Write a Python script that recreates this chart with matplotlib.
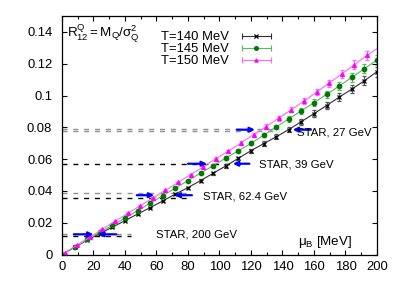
import matplotlib
matplotlib.use('Agg')
import matplotlib.pyplot as plt
from matplotlib.lines import Line2D
from matplotlib.legend_handler import HandlerLine2D, HandlerTuple
from matplotlib.ticker import MultipleLocator

plt.rcParams['font.family'] = ['Liberation Sans', 'DejaVu Sans']
plt.rcParams['mathtext.fontset'] = 'custom'
plt.rcParams['mathtext.rm'] = 'Liberation Sans'
plt.rcParams['mathtext.it'] = 'Liberation Sans:italic'

# lattice QCD curves, mu_B in MeV
mu = [0, 8, 16, 24, 32, 40, 48, 56, 64, 72, 80, 88, 96, 104, 112, 120,
      128, 136, 144, 152, 160, 168, 176, 184, 192, 200]
mu_150 = [1.6, 9.6, 17.6, 25.6, 33.6, 41.6, 49.6, 57.6, 65.6, 73.6, 81.6, 89.6,
          97.6, 105.6, 113.6, 121.6, 129.6, 137.6, 145.6, 153.6, 161.6, 169.6,
          177.6, 185.6, 193.6, 201.6]
r_140 = [0.0, 0.0045, 0.0091, 0.0131, 0.0172, 0.0213, 0.0255, 0.0295, 0.0337,
         0.0380, 0.0421, 0.0465, 0.0511, 0.0557, 0.0605, 0.0653, 0.0697, 0.0740,
         0.0786, 0.0836, 0.0886, 0.0937, 0.0990, 0.1040, 0.1093, 0.1150]
r_145 = [0.0, 0.0048, 0.0095, 0.0139, 0.0183, 0.0229, 0.0276, 0.0323, 0.0370,
         0.0418, 0.0465, 0.0512, 0.0559, 0.0607, 0.0653, 0.0699, 0.0750, 0.0802,
         0.0853, 0.0904, 0.0955, 0.1007, 0.1060, 0.1114, 0.1169, 0.1223]
r_150 = [0.0010, 0.0059, 0.0108, 0.0159, 0.0208, 0.0258, 0.0306, 0.0355, 0.0403,
         0.0453, 0.0502, 0.0551, 0.0602, 0.0650, 0.0702, 0.0754, 0.0804, 0.0858,
         0.0911, 0.0965, 0.1021, 0.1078, 0.1135, 0.1194, 0.1252, 0.1305]
err = [0.0002, 0.0002, 0.0002, 0.00024, 0.00027, 0.00032, 0.00037, 0.00043,
       0.0005, 0.00058, 0.00066, 0.00076, 0.00087, 0.00098, 0.0011, 0.00124,
       0.00139, 0.00154, 0.0017, 0.00188, 0.00206, 0.00225, 0.00245, 0.00265,
       0.00287, 0.0031]

# STAR data: dashed levels, arrows and labels
star_labels = ['STAR, 27 GeV', 'STAR, 39 GeV', 'STAR, 62.4 GeV', 'STAR, 200 GeV']
star_hi = [0.0792, 0.0571, 0.0386, 0.0131]
star_lo = [0.0776, 0.0571, 0.0357, 0.0117]
hi_color = ['#909090', 'black', '#909090', '#909090']
lo_color = ['#909090', 'black', 'black', 'black']
dash_end = [138, 116, 80, 44]
arrow_y = [0.0785, 0.0571, 0.0373, 0.0127]
r_tail = [111, 80, 47.5, 7.5]
r_head = [122.5, 92, 58.5, 20]
l_tail = [158, 119, 82.5, 34.5]
l_head = [146.5, 108.5, 71.5, 23]
label_x = [149.5, 125, 89.5, 59.5]
label_y = [0.0766, 0.0568, 0.0366, 0.0123]

fig = plt.figure(figsize=(4.02, 2.81), dpi=100)
ax = fig.add_axes([0.1542, 0.0943, 0.7836, 0.8487])

dash = (0, (3.6, 4.2))
for i in range(len(star_labels)):
    ax.plot([0, dash_end[i]], [star_hi[i], star_hi[i]], color=hi_color[i],
            lw=1.0, linestyle=dash)
    if star_lo[i] != star_hi[i]:
        ax.plot([0, dash_end[i]], [star_lo[i], star_lo[i]], color=lo_color[i],
                lw=1.0, linestyle=dash)

series = [
    (mu, r_140, 'T=140 MeV', '#303030', 'black', 'x', 3.5),
    (mu, r_145, 'T=145 MeV', '#5cb85c', '#007700', 'o', 3.2),
    (mu_150, r_150, 'T=150 MeV', '#ff66ff', '#ff00ff', '^', 2.8),
]
handles = []
hmap = {}
for x, y, lab, lc, mc, mk, ms in series:
    ax.errorbar(x, y, yerr=err, color=lc, ecolor=lc if mk != 'x' else '#555555',
                elinewidth=0.8, capsize=1.3, capthick=0.8, lw=0.8,
                marker=mk, ms=ms, mfc=mc, mec=mc, mew=0.9)
    caps = Line2D([], [], color=lc, lw=0.8, marker='|', ms=4, mec=lc, mew=0.8)
    mid = Line2D([], [], color=lc, lw=0, marker=mk, ms=ms - 0.5, mfc=mc, mec=mc,
                 mew=0.9)
    hmap[caps] = HandlerLine2D(numpoints=2)
    hmap[mid] = HandlerLine2D(numpoints=1)
    handles.append((caps, mid))
    hmap[(caps, mid)] = HandlerTuple(ndivide=1)

for i in range(len(star_labels)):
    ax.annotate('', xy=(r_head[i], arrow_y[i]), xytext=(r_tail[i], arrow_y[i]),
                arrowprops=dict(arrowstyle='-|>', color='#0000ff', lw=1.6,
                                mutation_scale=7, shrinkA=0, shrinkB=0))
    ax.annotate('', xy=(l_head[i], arrow_y[i]), xytext=(l_tail[i], arrow_y[i]),
                arrowprops=dict(arrowstyle='-|>', color='#0000ff', lw=1.6,
                                mutation_scale=7, shrinkA=0, shrinkB=0))
    ax.text(label_x[i], label_y[i], star_labels[i], fontsize=8.2,
            ha='left', va='center')

leg = ax.legend(handles, [s[2] for s in series], handler_map=hmap,
                loc='upper right', bbox_to_anchor=(0.675, 0.937),
                frameon=False, markerfirst=False, fontsize=9.4,
                handlelength=2.8, handletextpad=0.7, labelspacing=0.0,
                borderpad=0, borderaxespad=0)

ax.text(0.017, 0.97, r'$\mathregular{R^{Q}_{12}=M_{Q}/σ^{2}_{Q}}$',
        transform=ax.transAxes, fontsize=9.6, ha='left', va='top')
ax.text(150, 0.008, r'$\mathregular{μ_{B}}$ [MeV]', fontsize=9.6,
        ha='left', va='center')

ax.set_xlim(0, 200)
ax.set_ylim(0, 0.15)
ax.xaxis.set_major_locator(MultipleLocator(20))
ax.xaxis.set_minor_locator(MultipleLocator(10))
ax.set_yticks([0, 0.02, 0.04, 0.06, 0.08, 0.1, 0.12, 0.14])
ax.set_yticklabels(['0', '0.02', '0.04', '0.06', '0.08', '0.1', '0.12', '0.14'])
ax.tick_params(which='both', direction='in', top=True, right=True,
               labelsize=9.4, width=0.8)
ax.tick_params(which='major', length=3.5)
ax.tick_params(which='minor', length=2)
ax.tick_params(axis='y', pad=7)
ax.tick_params(axis='x', pad=4.5)
for s in ax.spines.values():
    s.set_linewidth(0.9)

fig.savefig('out.png', dpi=100)
